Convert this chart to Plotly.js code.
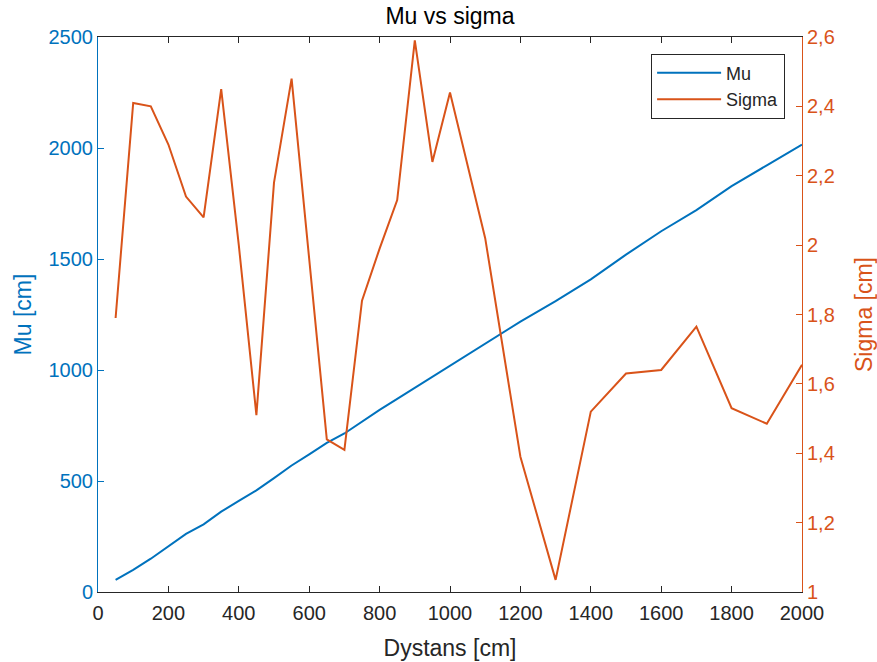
<!DOCTYPE html>
<html>
<head>
<meta charset="utf-8">
<script src="https://cdn.plot.ly/plotly-3.0.1.min.js"></script>
<style>html,body{margin:0;padding:0;background:#fff;}#chart{width:877px;height:662px;}</style>
</head>
<body>
<div id="chart"></div>
<script>
const distance = [50,100,150,200,250,300,350,400,450,500,550,600,650,700,750,800,850,900,950,1000,1100,1200,1300,1400,1500,1600,1700,1800,1900,2000];
const mu = [55,100,150,205,262,305,362,410,458,513,570,620,672,714,768,820,870,920,970,1020,1120,1218,1310,1408,1520,1625,1720,1828,1922,2015];
const sigma = [1.79,2.41,2.40,2.29,2.14,2.08,2.45,2.00,1.51,2.18,2.48,1.97,1.44,1.41,1.84,1.99,2.13,2.59,2.24,2.44,2.02,1.39,1.035,1.52,1.63,1.64,1.765,1.53,1.485,1.655];
const sigmaTicks = [1,1.2,1.4,1.6,1.8,2,2.2,2.4,2.6];
const sigmaTickText = ['1','1,2','1,4','1,6','1,8','2','2,2','2,4','2,6'];

const BLUE = '#0072BD', ORANGE = '#D95319', DARK = '#262626';
const FONT = 'Liberation Sans, Arial, Helvetica, sans-serif';

const traces = [
  {x: distance, y: mu, name: 'Mu', type: 'scatter', mode: 'lines',
   line: {color: BLUE, width: 2}, yaxis: 'y'},
  {x: distance, y: sigma, name: 'Sigma', type: 'scatter', mode: 'lines',
   line: {color: ORANGE, width: 2}, yaxis: 'y2'}
];

const layout = {
  width: 877, height: 662,
  margin: {l: 98, r: 75, t: 37, b: 70},
  paper_bgcolor: '#fff', plot_bgcolor: '#fff',
  font: {family: FONT, size: 20, color: DARK},
  title: {text: 'Mu vs sigma', font: {family: FONT, size: 23, color: '#000'},
          x: 0.5, xref: 'paper', xanchor: 'center', y: 0.976, yanchor: 'middle'},
  showlegend: true,
  legend: {x: 0.976, xanchor: 'right', y: 0.97, yanchor: 'top',
           bgcolor: '#fff', bordercolor: DARK, borderwidth: 1,
           font: {family: FONT, size: 18, color: DARK}, itemwidth: 64},
  xaxis: {range: [0, 2000], dtick: 200, tick0: 0, ticks: 'inside', ticklen: 6,
          tickcolor: DARK, linecolor: DARK, linewidth: 1, showline: true, mirror: 'ticks',
          showgrid: false, zeroline: false, ticklabelstandoff: 3,
          tickfont: {family: FONT, size: 20, color: DARK},
          title: {text: 'Dystans [cm]', font: {family: FONT, size: 23, color: DARK}, standoff: 16}},
  yaxis: {range: [0, 2500], dtick: 500, tick0: 0, ticks: 'inside', ticklen: 6,
          tickcolor: BLUE, linecolor: BLUE, linewidth: 1, showline: true,
          showgrid: false, zeroline: false,
          tickfont: {family: FONT, size: 20, color: BLUE},
          title: {text: 'Mu [cm]', font: {family: FONT, size: 23, color: BLUE}, standoff: 10}},
  yaxis2: {overlaying: 'y', side: 'right', range: [0.99999, 2.60001],
           tickmode: 'array', tickvals: sigmaTicks, ticktext: sigmaTickText,
           ticks: 'inside', ticklen: 6, tickcolor: ORANGE, linecolor: ORANGE, linewidth: 1,
           showline: true, showgrid: false, zeroline: false,
           tickfont: {family: FONT, size: 20, color: ORANGE},
           title: {text: 'Sigma [cm]', font: {family: FONT, size: 23, color: ORANGE}, standoff: 24}}
};

Plotly.newPlot('chart', traces, layout, {displayModeBar: false, staticPlot: true});
</script>
</body>
</html>
